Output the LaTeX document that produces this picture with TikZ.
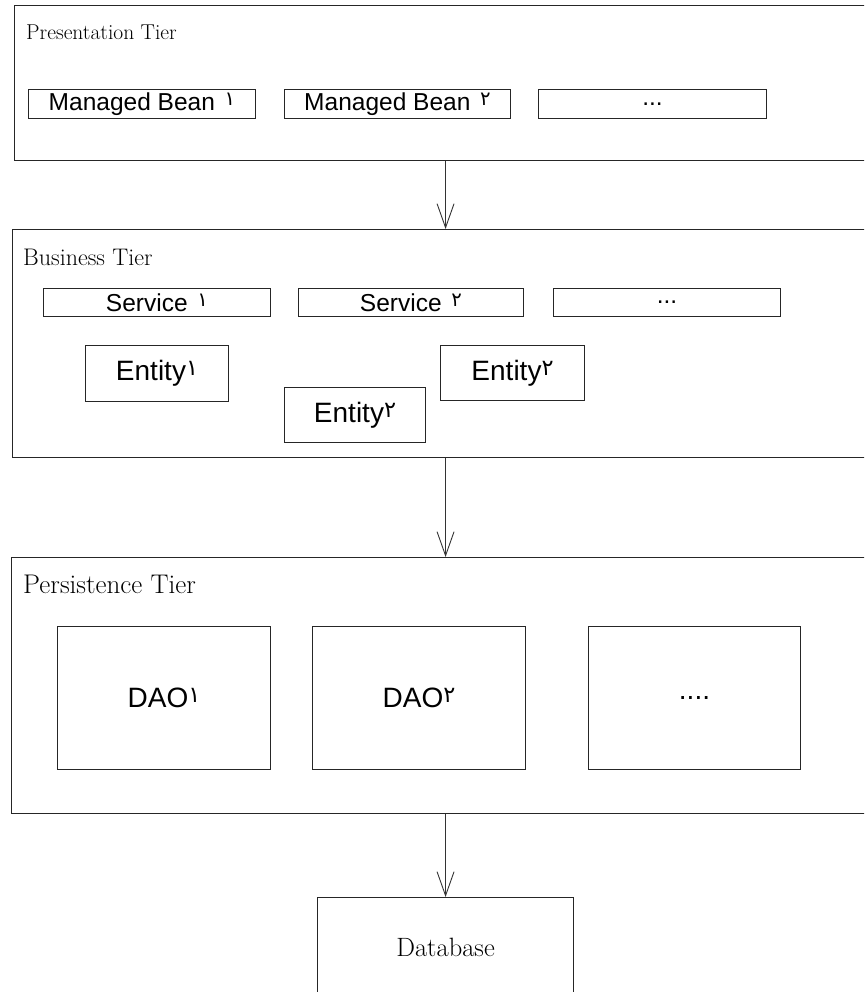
\documentclass[tikz,border=0pt]{standalone}
\usepackage{fontspec}
\setsansfont{Liberation Sans}
\newfontfamily\digitfont[Script=Arabic]{DejaVu Sans}
\usetikzlibrary{arrows.meta}

\newcommand{\dg}[1]{\raisebox{0.18em}{\scalebox{0.8}{\digitfont #1}}}

\tikzset{
  tier/.style={draw=black!85, line width=1.1pt, anchor=north west, inner sep=0pt},
  part/.style={draw=black!85, line width=1pt, anchor=north west, inner sep=0pt,
    font=\sffamily\fontsize{24.5}{27}\selectfont},
  bigpart/.style={part, font=\sffamily\fontsize{28}{31}\selectfont},
  tiername/.style={anchor=base west, inner sep=0pt},
  flow/.style={draw=black!80, line width=0.9pt, -{Straight Barb[length=24pt,width=17pt]}}
}

\begin{document}
\begin{tikzpicture}[x=1pt,y=-1pt]
  \useasboundingbox (0,0) rectangle (864,992);
  \clip (0,0) rectangle (864,992);

  % presentation tier
  \node[tier, minimum width=1000pt, minimum height=155pt] (pres) at (14,5) {};
  \node[tiername, font=\rmfamily\fontsize{21.5}{26}\selectfont] (presname) at (26,40) {Presentation Tier};
  \node[part, minimum width=227pt, minimum height=29pt] (bean1) at (28,89) {Managed Bean\hspace{0.4em}\dg{١}};
  \node[part, minimum width=226pt, minimum height=29pt] (bean2) at (284,89) {Managed Bean\hspace{0.4em}\dg{٢}};
  \node[part, minimum width=228pt, minimum height=29pt] (bean3) at (538,89) {...};

  % business tier
  \node[tier, minimum width=1000pt, minimum height=228pt] (bus) at (12,229) {};
  \node[tiername, font=\rmfamily\fontsize{24}{28}\selectfont] (busname) at (23,265) {Business Tier};
  \node[part, minimum width=227pt, minimum height=28pt] (serv1) at (43,288) {Service\hspace{0.4em}\dg{١}};
  \node[part, minimum width=225pt, minimum height=28pt] (serv2) at (298,288) {Service\hspace{0.4em}\dg{٢}};
  \node[part, minimum width=227pt, minimum height=28pt] (serv3) at (553,288) {...};
  \node[bigpart, minimum width=143pt, minimum height=56pt] (ent1) at (85,345) {Entity\dg{١}};
  \node[bigpart, minimum width=141pt, minimum height=55pt] (ent2) at (284,387) {Entity\dg{٢}};
  \node[bigpart, minimum width=144pt, minimum height=55pt] (ent3) at (440,345) {Entity\dg{٢}};

  % persistence tier
  \node[tier, minimum width=1000pt, minimum height=256pt] (pers) at (11,557) {};
  \node[tiername, font=\rmfamily\fontsize{27}{32}\selectfont] (persname) at (23,593) {Persistence Tier};
  \node[bigpart, minimum width=213pt, minimum height=143pt] (dao1) at (57,626) {DAO\dg{١}};
  \node[bigpart, minimum width=213pt, minimum height=143pt] (dao2) at (312,626) {DAO\dg{٢}};
  \node[bigpart, minimum width=212pt, minimum height=143pt] (dao3) at (588,626) {....};

  % database
  \node[tier, minimum width=256pt, minimum height=100pt, font=\rmfamily\fontsize{26.5}{30}\selectfont] (db) at (317,897) {Database};

  \draw[flow] (pres.south -| db) -- (bus.north -| db);
  \draw[flow] (bus.south -| db) -- (pers.north -| db);
  \draw[flow] (pers.south -| db) -- (db.north);
\end{tikzpicture}
\end{document}
